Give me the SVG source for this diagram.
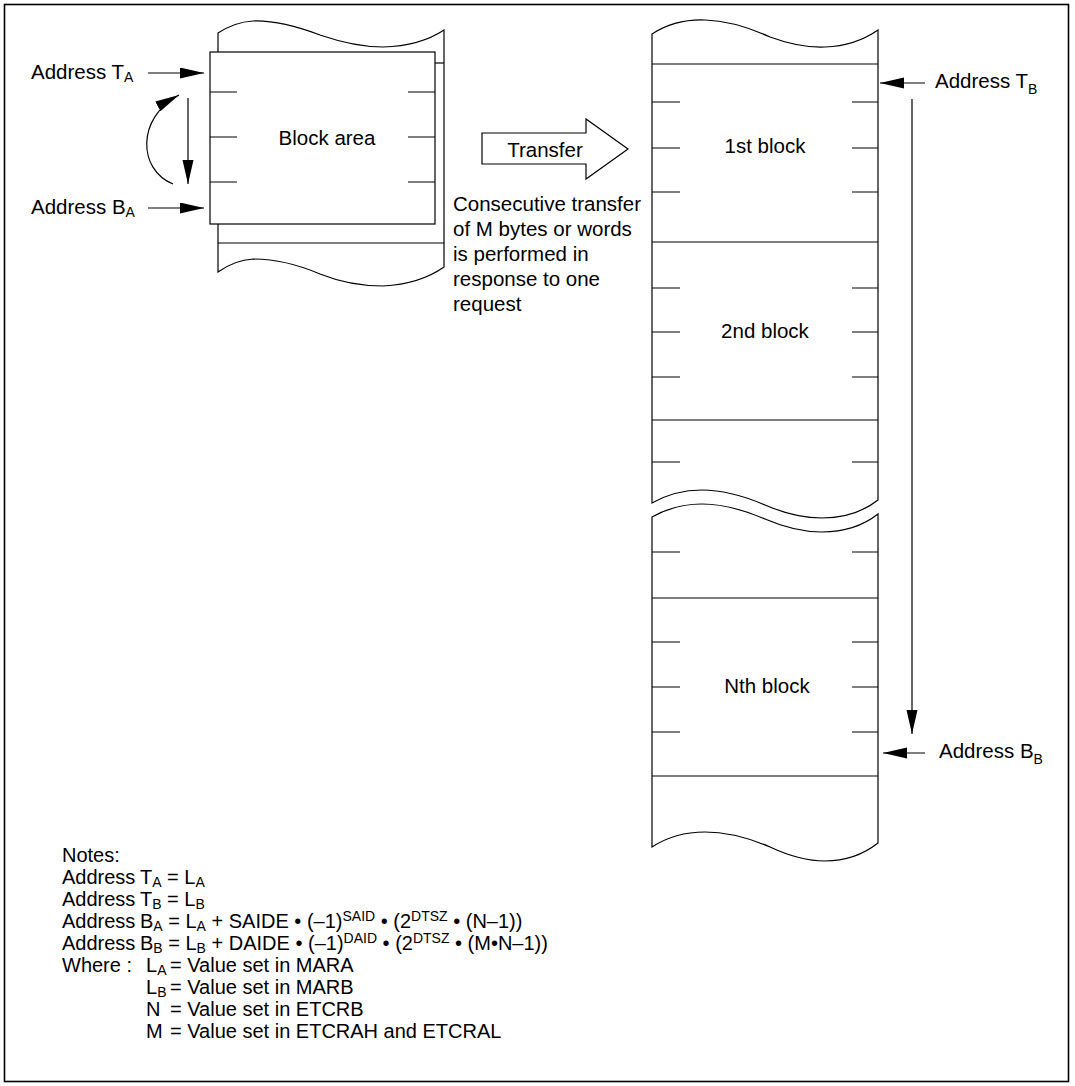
<svg xmlns="http://www.w3.org/2000/svg" width="1075" height="1086" viewBox="0 0 1075 1086">
<style>
.t{font-family:"Liberation Sans",Arial,Helvetica,sans-serif;font-size:20.5px;fill:#000}
.n{font-family:"Liberation Sans",Arial,Helvetica,sans-serif;font-size:20px;fill:#000}
.s{font-size:14px}
.ns{font-size:14px}
.ln{stroke:#000;stroke-width:1.2;fill:none}
.box{stroke:#000;stroke-width:1.2;fill:#fff}
</style>
<defs>
<marker id="ah" markerUnits="userSpaceOnUse" markerWidth="24" markerHeight="12" refX="24" refY="5.5" orient="auto">
<path d="M0,0 L24,5.5 L0,11 Z" fill="#000"/>
</marker>
</defs>
<rect x="4.5" y="4.5" width="1064" height="1077" fill="#fff" stroke="#000" stroke-width="1.6"/>

<g id="source-memory">
<path class="box" d="M218,52 L218,33 Q235,22 253,21 Q280,20 320,35 Q355,47 383,47 Q420,46 444,30 L444,267 Q420,284 383,286 Q350,286 320,274 Q285,259 253,259 Q235,260 218,272 Z"/>
<line class="ln" x1="435" y1="63" x2="444" y2="63"/>
<line class="ln" x1="218" y1="243" x2="444" y2="243"/>
</g>

<g id="block-area">
<rect class="box" x="210" y="52" width="225" height="172"/>
<path class="ln" d="M210,92 H237 M210,137 H237 M210,182 H237 M408,92 H435 M408,137 H435 M408,182 H435"/>
<text class="t" x="327" y="145" text-anchor="middle">Block area</text>
</g>

<g id="label-ta">
<text class="t" x="31" y="79">Address T<tspan class="s" dy="3">A</tspan></text>
</g>
<g id="label-ba">
<text class="t" x="31" y="214">Address B<tspan class="s" dy="3">A</tspan></text>
</g>

<g id="transfer">
<polygon class="box" points="482,133 586,133 586,119 628,149 586,179 586,164 482,164"/>
<text class="t" x="545" y="157" text-anchor="middle">Transfer</text>
</g>

<g id="transfer-note">
<text class="t" x="453" y="211">Consecutive transfer</text>
<text class="t" x="453" y="236">of M bytes or words</text>
<text class="t" x="453" y="261">is performed in</text>
<text class="t" x="453" y="286">response to one</text>
<text class="t" x="453" y="311">request</text>
</g>

<g id="dest-memory-upper">
<path class="box" d="M652,503 L652,34 Q675,19 705,20 Q735,21 770,37 Q800,48 825,47 Q855,46 878,30 L878,500 Q855,518 822,518 Q795,518 765,505 Q730,490 702,490 Q675,490 652,503 Z"/>
<path class="ln" d="M652,64 H878 M652,242 H878 M652,420 H878"/>
<path class="ln" d="M652,102 H680 M652,148 H680 M652,192 H680 M852,102 H878 M852,148 H878 M852,192 H878"/>
<path class="ln" d="M652,288 H680 M652,332 H680 M652,377 H680 M852,288 H878 M852,332 H878 M852,377 H878"/>
<path class="ln" d="M652,462 H680 M852,462 H878"/>
</g>
<g id="block-1st">
<text class="t" x="765" y="153" text-anchor="middle">1st block</text>
</g>
<g id="block-2nd">
<text class="t" x="765" y="338" text-anchor="middle">2nd block</text>
</g>

<g id="dest-memory-lower">
<path class="box" d="M652,847 L652,517 Q675,504 702,504 Q730,504 765,519 Q795,532 822,532 Q855,532 878,514 L878,843 Q855,861 825,861 Q800,861 770,847 Q735,832 705,832 Q675,832 652,847 Z"/>
<path class="ln" d="M652,598 H878 M652,776 H878"/>
<path class="ln" d="M652,552 H680 M852,552 H878"/>
<path class="ln" d="M652,642 H680 M652,687 H680 M652,732 H680 M852,642 H878 M852,687 H878 M852,732 H878"/>
</g>
<g id="block-nth">
<text class="t" x="767" y="693" text-anchor="middle">Nth block</text>
</g>

<g id="label-tb">
<text class="t" x="935" y="88">Address T<tspan class="s" dy="6">B</tspan></text>
</g>
<g id="label-bb">
<text class="t" x="939" y="758">Address B<tspan class="s" dy="6">B</tspan></text>
</g>

<g id="connectors">
<line class="ln" x1="148" y1="73" x2="204" y2="73" marker-end="url(#ah)"/>
<line class="ln" x1="148" y1="208" x2="204" y2="208" marker-end="url(#ah)"/>
<line class="ln" x1="188" y1="98" x2="188" y2="184" marker-end="url(#ah)"/>
<path class="ln" d="M173,184 C138,170 136,118 179,95" marker-end="url(#ah)"/>
<line class="ln" x1="925" y1="83" x2="880" y2="83" marker-end="url(#ah)"/>
<line class="ln" x1="912" y1="99" x2="912" y2="734" marker-end="url(#ah)"/>
<line class="ln" x1="925" y1="753" x2="883" y2="753" marker-end="url(#ah)"/>
</g>

<g id="notes">
<text class="n" x="62" y="862">Notes:</text>
<text class="n" x="62" y="884">Address</text>
<text class="n" x="140" y="884">T<tspan class="ns" dy="3">A</tspan><tspan dy="-3"> = L</tspan><tspan class="ns" dy="3">A</tspan></text>
<text class="n" x="62" y="906">Address</text>
<text class="n" x="140" y="906">T<tspan class="ns" dy="3">B</tspan><tspan dy="-3"> = L</tspan><tspan class="ns" dy="3">B</tspan></text>
<text class="n" x="62" y="928">Address</text>
<text class="n" x="140" y="928">B<tspan class="ns" dy="3">A</tspan><tspan dy="-3"> = L</tspan><tspan class="ns" dy="3">A</tspan><tspan dy="-3"> + SAIDE • (–1)</tspan><tspan class="ns" dy="-7">SAID</tspan><tspan dy="7"> • (2</tspan><tspan class="ns" dy="-7">DTSZ</tspan><tspan dy="7"> • (N–1))</tspan></text>
<text class="n" x="62" y="950">Address</text>
<text class="n" x="140" y="950">B<tspan class="ns" dy="3">B</tspan><tspan dy="-3"> = L</tspan><tspan class="ns" dy="3">B</tspan><tspan dy="-3"> + DAIDE • (–1)</tspan><tspan class="ns" dy="-7">DAID</tspan><tspan dy="7"> • (2</tspan><tspan class="ns" dy="-7">DTSZ</tspan><tspan dy="7"> • (M•N–1))</tspan></text>
<text class="n" x="62" y="972">Where :</text>
<text class="n" x="146" y="972">L<tspan class="ns" dy="3">A</tspan></text>
<text class="n" x="170" y="972">= Value set in MARA</text>
<text class="n" x="146" y="994">L<tspan class="ns" dy="3">B</tspan></text>
<text class="n" x="170" y="994">= Value set in MARB</text>
<text class="n" x="146" y="1016">N</text>
<text class="n" x="170" y="1016">= Value set in ETCRB</text>
<text class="n" x="146" y="1038">M</text>
<text class="n" x="170" y="1038">= Value set in ETCRAH and ETCRAL</text>
</g>
</svg>
